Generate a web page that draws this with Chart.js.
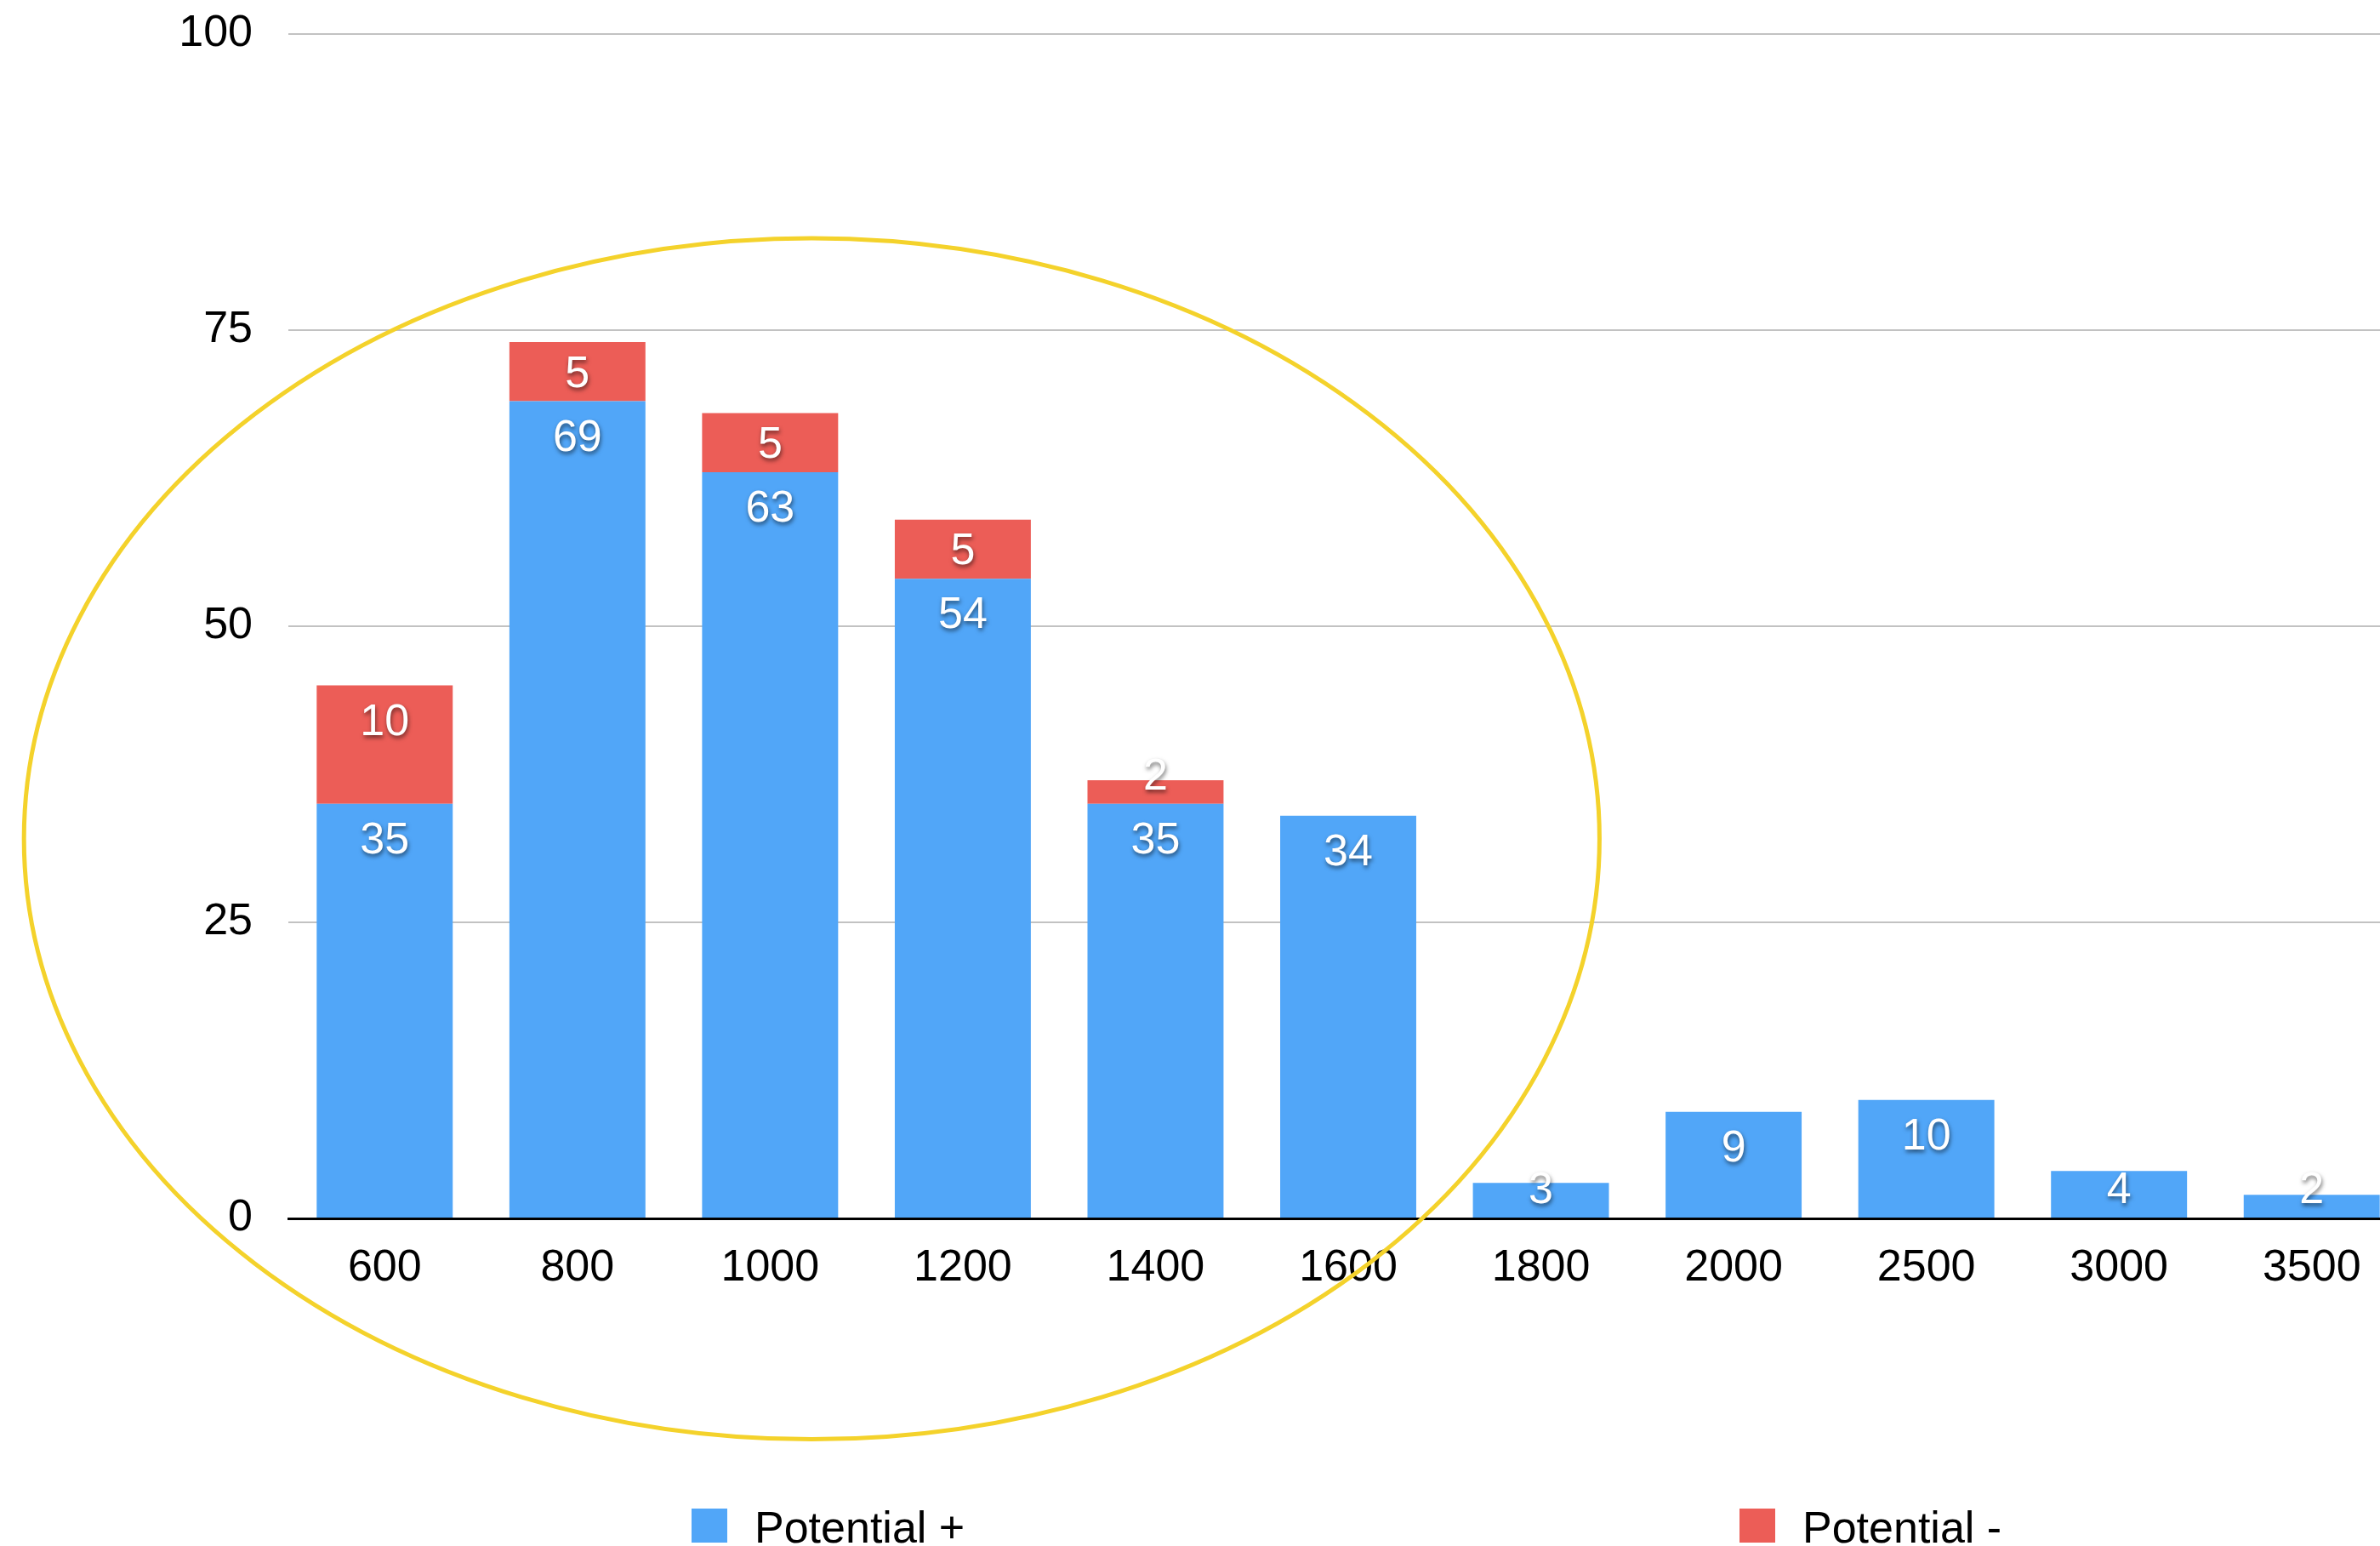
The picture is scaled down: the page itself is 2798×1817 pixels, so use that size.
<!DOCTYPE html>
<html>
<head>
<meta charset="utf-8">
<script src="https://cdn.jsdelivr.net/npm/chart.js@4/dist/chart.umd.min.js"></script>
<style>
  html, body { margin: 0; padding: 0; background: #fff; overflow: hidden; }
  #wrap { width: 2831px; height: 1817px; }
</style>
</head>
<body>
<div id="wrap"><canvas id="chart"></canvas></div>
<script>
// Data
const categories = ['600', '800', '1000', '1200', '1400', '1600', '1800', '2000', '2500', '3000', '3500'];
const potentialPlus = [35, 69, 63, 54, 35, 34, 3, 9, 10, 4, 2];
const potentialMinus = [10, 5, 5, 5, 2, 0, 0, 0, 0, 0, 0];
const seriesNames = ['Potential +', 'Potential -'];
const yTicks = [0, 25, 50, 75, 100];

// Highlight ellipse, in axis units: [centre index, centre value, radius in categories, radius in value]
const highlight = [2.216, 32.05, 4.088, 50.7];

const BLUE = '#51A6F8';
const RED = '#EC5D57';
const FONT = '"Liberation Sans", Arial, Helvetica, sans-serif';

// White value labels with a soft drop shadow, pinned to the top of each segment
const valueLabels = {
    id: 'valueLabels',
    afterDatasetsDraw(chart) {
        const { ctx } = chart;
        ctx.save();
        ctx.font = '52px ' + FONT;
        ctx.fillStyle = '#fff';
        ctx.textAlign = 'center';
        ctx.textBaseline = 'alphabetic';
        ctx.shadowColor = 'rgba(0,0,0,0.55)';
        ctx.shadowBlur = 5;
        ctx.shadowOffsetX = 1;
        ctx.shadowOffsetY = 3;
        chart.data.datasets.forEach((ds, di) => {
            const meta = chart.getDatasetMeta(di);
            meta.data.forEach((bar, i) => {
                const v = ds.data[i];
                if (!v) return;
                const top = Math.min(bar.y, bar.base);
                const bottom = Math.max(bar.y, bar.base);
                const y = Math.min(top + 58, bottom - 17);
                ctx.fillText(String(v), bar.x, y);
            });
        });
        ctx.restore();
    }
};

// Yellow ellipse drawn over the chart
const ellipse = {
    id: 'ellipse',
    afterDraw(chart) {
        const { ctx, scales: { x, y } } = chart;
        const [ci, cv, ri, rv] = highlight;
        const cx = x.getPixelForValue(ci);
        const cy = y.getPixelForValue(cv);
        const rx = x.getPixelForValue(ci + ri) - cx;
        const ry = cy - y.getPixelForValue(cv + rv);
        ctx.save();
        ctx.beginPath();
        ctx.ellipse(cx, cy, rx, ry, 0, 0, Math.PI * 2);
        ctx.strokeStyle = '#F4D22B';
        ctx.lineWidth = 5;
        ctx.stroke();
        ctx.restore();
    }
};

// Legend spread across the bottom
const legendX = [813, 2045];
const spreadLegend = {
    id: 'spreadLegend',
    afterDraw(chart) {
        const { ctx } = chart;
        ctx.save();
        ctx.font = '52px ' + FONT;
        ctx.textAlign = 'left';
        ctx.textBaseline = 'alphabetic';
        chart.data.datasets.forEach((ds, i) => {
            const lx = legendX[i];
            ctx.fillStyle = ds.backgroundColor;
            ctx.fillRect(lx, 1773, 42, 40);
            ctx.fillStyle = '#000';
            ctx.fillText(ds.label, lx + 74, 1813);
        });
        ctx.restore();
    }
};

new Chart(document.getElementById('chart'), {
    type: 'bar',
    data: {
        labels: categories,
        datasets: [
            { label: seriesNames[0], data: potentialPlus, backgroundColor: BLUE, borderWidth: 0 },
            { label: seriesNames[1], data: potentialMinus, backgroundColor: RED, borderWidth: 0 }
        ]
    },
    options: {
        responsive: true,
        maintainAspectRatio: false,
        animation: false,
        categoryPercentage: 1,
        barPercentage: 0.706,
        layout: { padding: { top: 40, left: 0, right: 0, bottom: 0 } },
        plugins: {
            legend: { display: false },
            tooltip: { enabled: false }
        },
        scales: {
            x: {
                stacked: true,
                z: 1,
                grid: { display: false, drawTicks: false },
                border: { display: true, color: '#000', width: 3 },
                ticks: { color: '#000', font: { family: FONT, size: 52 }, padding: 27, maxRotation: 0, autoSkip: false },
                afterFit: (s) => { s.height = 385; }
            },
            y: {
                stacked: true,
                min: 0,
                max: 100,
                grid: { color: '#C2C2C2', lineWidth: 2, drawTicks: false },
                border: { display: false },
                afterBuildTicks: (s) => { s.ticks = yTicks.map(v => ({ value: v })); },
                ticks: { color: '#000', font: { family: FONT, size: 52 }, padding: 42 },
                afterFit: (s) => {
                    s.width = 339;
                    s.paddingTop = 0;
                    s.paddingBottom = 0;
                }
            }
        }
    },
    plugins: [valueLabels, ellipse, spreadLegend]
});
</script>
</body>
</html>
